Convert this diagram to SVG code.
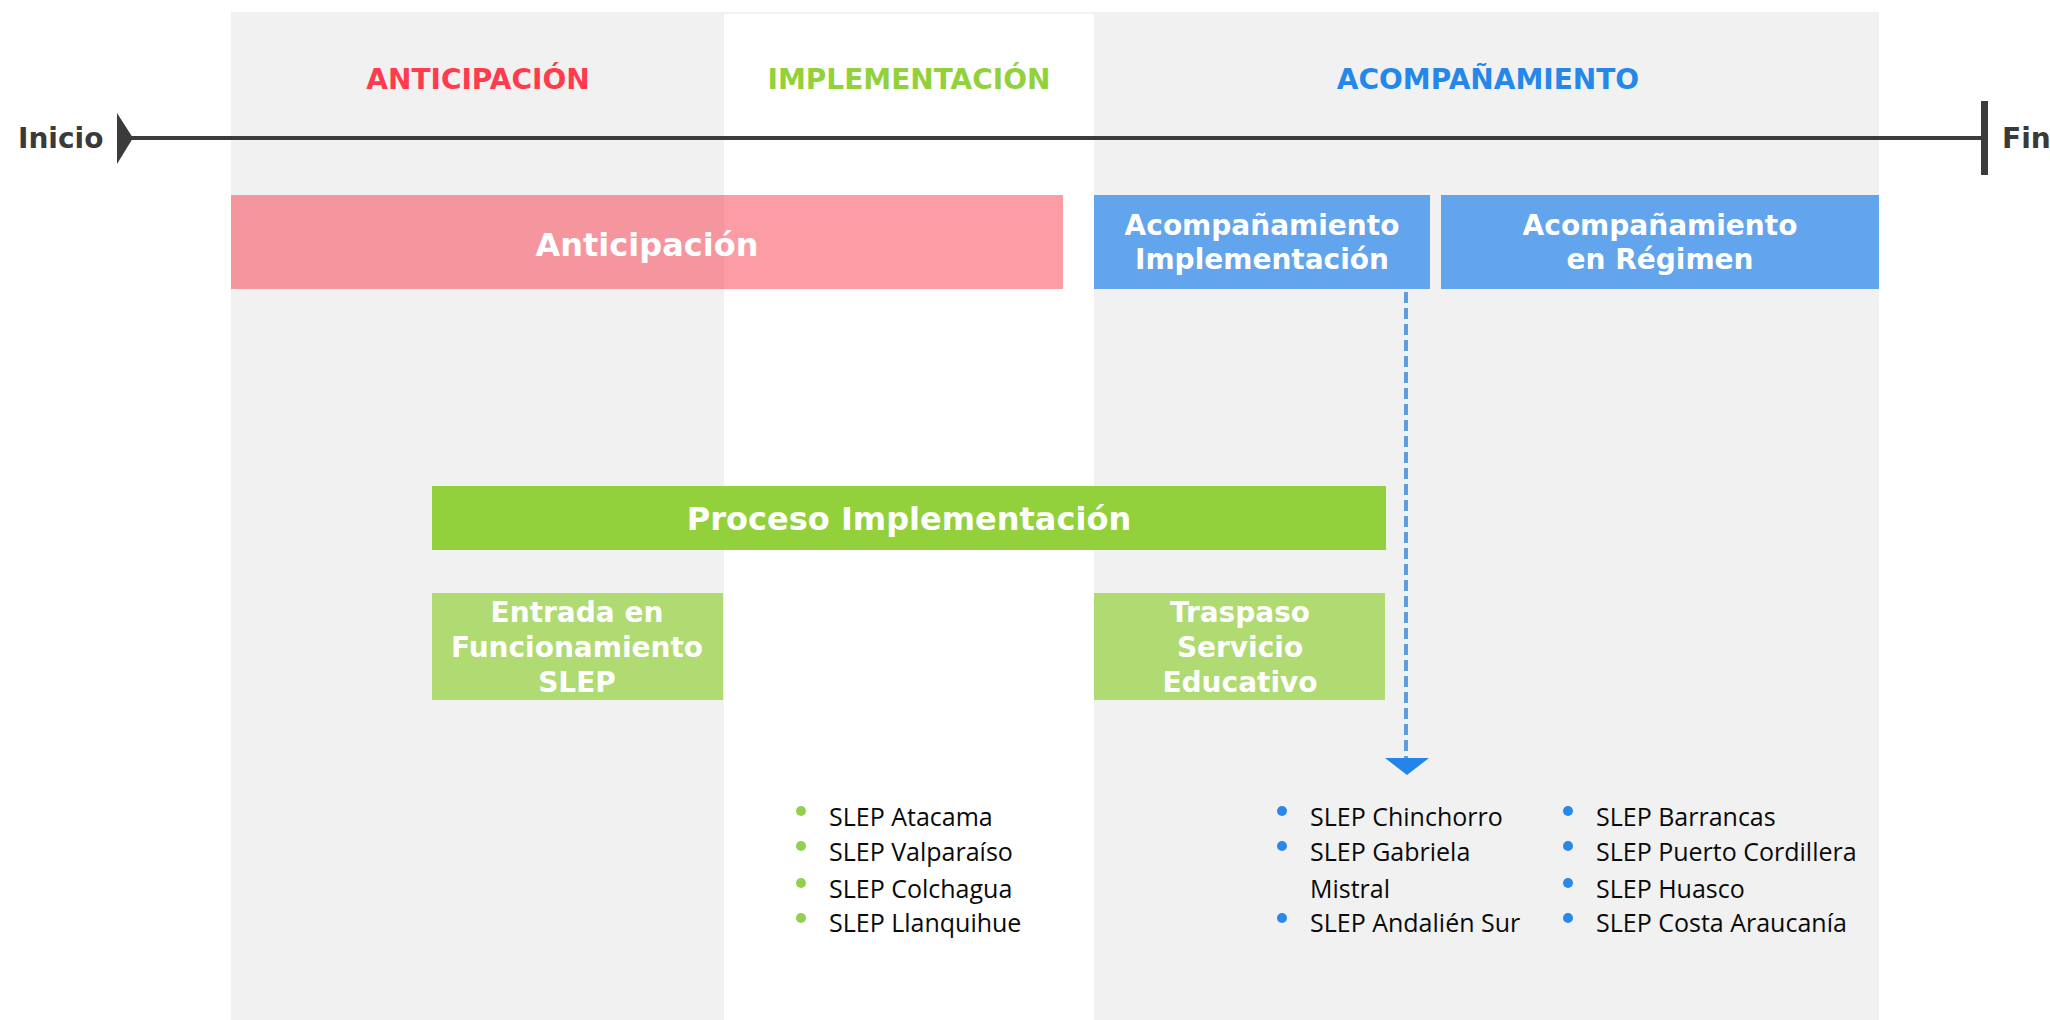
<svg xmlns="http://www.w3.org/2000/svg" width="2050" height="1020" viewBox="0 0 2050 1020">
<style>
.hdr{font-family:"DejaVu Sans",Verdana,sans-serif;font-weight:bold;font-size:28px;text-anchor:middle}
.lbl{font-family:"DejaVu Sans",Verdana,sans-serif;font-weight:bold;fill:#ffffff;text-anchor:middle}
.end{font-family:"DejaVu Sans",Verdana,sans-serif;font-weight:bold;font-size:28px;fill:#3a3a3a}
.item{font-family:"Open Sans","Noto Sans",sans-serif;font-size:25px;fill:#0a0a0a}
.gdot{fill:#92D050}
.bdot{fill:#2A88EA}
</style>
<rect width="2050" height="1020" fill="#ffffff"/>
<g id="background">
<rect x="231" y="12" width="1648" height="1008" fill="#F1F1F1"/>
<rect x="724" y="14" width="370" height="1006" fill="#ffffff"/>
</g>
<g id="headers">
<text class="hdr" x="478" y="89" fill="#FF3B4E">ANTICIPACIÓN</text>
<text class="hdr" x="909" y="89" fill="#92D13A">IMPLEMENTACIÓN</text>
<text class="hdr" x="1488" y="89" fill="#2388EA">ACOMPAÑAMIENTO</text>
</g>
<g id="timeline">
<line x1="130" y1="138" x2="1984" y2="138" stroke="#3B3B3B" stroke-width="4"/>
<path d="M117,113 L133,138 L117,164 Z" fill="#3B3B3B"/>
<rect x="1981" y="101" width="7" height="74" fill="#3B3B3B"/>
<text class="end" x="18" y="148">Inicio</text>
<text class="end" x="2002" y="148">Fin</text>
</g>
<g id="node-anticipacion">
<rect x="231" y="195" width="832" height="94" fill="#F92D3E" fill-opacity="0.47"/>
<text class="lbl" x="647" y="256" font-size="32">Anticipación</text>
</g>
<g id="node-acomp-impl">
<rect x="1094" y="195" width="336" height="94" fill="#63A5EC"/>
<text class="lbl" x="1262" y="235" font-size="28">Acompañamiento</text>
<text class="lbl" x="1262" y="269" font-size="28">Implementación</text>
</g>
<g id="node-acomp-regimen">
<rect x="1441" y="195" width="438" height="94" fill="#63A5EC"/>
<text class="lbl" x="1660" y="235" font-size="28">Acompañamiento</text>
<text class="lbl" x="1660" y="269" font-size="28">en Régimen</text>
</g>
<g id="node-proceso">
<rect x="432" y="486" width="954" height="64" fill="#92D13B"/>
<text class="lbl" x="909" y="530" font-size="32">Proceso Implementación</text>
</g>
<g id="node-entrada">
<rect x="432" y="593" width="291" height="107" fill="#AFDB72"/>
<text class="lbl" x="577" y="622" font-size="28">Entrada en</text>
<text class="lbl" x="577" y="657" font-size="28">Funcionamiento</text>
<text class="lbl" x="577" y="692" font-size="28">SLEP</text>
</g>
<g id="node-traspaso">
<rect x="1094" y="593" width="291" height="107" fill="#AFDB72"/>
<text class="lbl" x="1240" y="622" font-size="28">Traspaso</text>
<text class="lbl" x="1240" y="657" font-size="28">Servicio</text>
<text class="lbl" x="1240" y="692" font-size="28">Educativo</text>
</g>
<g id="connectors">
<line x1="1406" y1="292" x2="1406" y2="760" stroke="#5E9FDB" stroke-width="4" stroke-dasharray="11 5"/>
<path d="M1385,758 L1429,758 L1407,775 Z" fill="#2385EA"/>
</g>
<g id="list-implementacion">
<circle class="gdot" cx="801" cy="811" r="5"/>
<circle class="gdot" cx="801" cy="846" r="5"/>
<circle class="gdot" cx="801" cy="883" r="5"/>
<circle class="gdot" cx="801" cy="918" r="5"/>
<text class="item" x="829" y="826">SLEP Atacama</text>
<text class="item" x="829" y="861">SLEP Valparaíso</text>
<text class="item" x="829" y="898">SLEP Colchagua</text>
<text class="item" x="829" y="932">SLEP Llanquihue</text>
</g>
<g id="list-acompanamiento">
<circle class="bdot" cx="1282" cy="811" r="5"/>
<circle class="bdot" cx="1282" cy="846" r="5"/>
<circle class="bdot" cx="1282" cy="918" r="5"/>
<text class="item" x="1310" y="826">SLEP Chinchorro</text>
<text class="item" x="1310" y="861">SLEP Gabriela</text>
<text class="item" x="1310" y="898">Mistral</text>
<text class="item" x="1310" y="932">SLEP Andalién Sur</text>
<circle class="bdot" cx="1568" cy="811" r="5"/>
<circle class="bdot" cx="1568" cy="846" r="5"/>
<circle class="bdot" cx="1568" cy="883" r="5"/>
<circle class="bdot" cx="1568" cy="918" r="5"/>
<text class="item" x="1596" y="826">SLEP Barrancas</text>
<text class="item" x="1596" y="861">SLEP Puerto Cordillera</text>
<text class="item" x="1596" y="898">SLEP Huasco</text>
<text class="item" x="1596" y="932">SLEP Costa Araucanía</text>
</g>
</svg>
